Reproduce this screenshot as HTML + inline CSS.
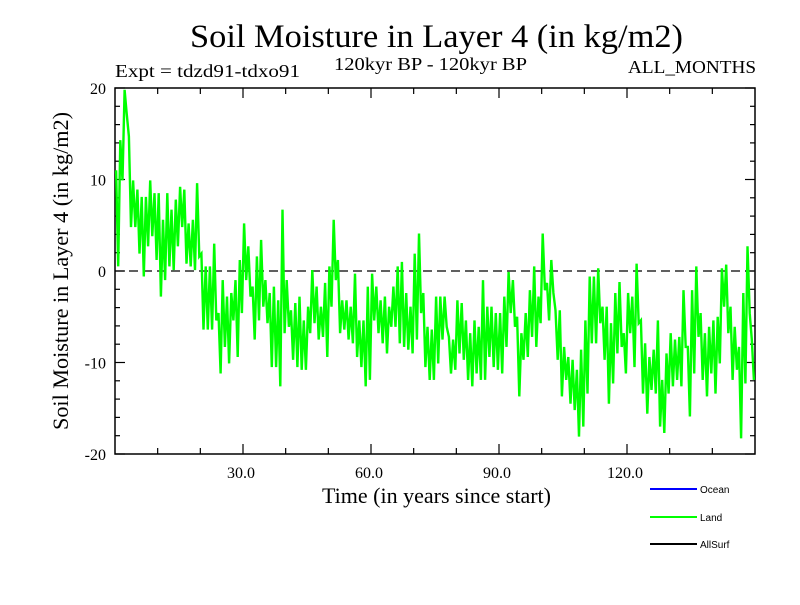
<!DOCTYPE html>
<html><head><meta charset="utf-8"><style>
body{margin:0;background:#fff;}
svg text{font-family:"Liberation Serif",serif;fill:#000;}
</style></head><body>
<svg id="chart" width="800" height="600" viewBox="0 0 800 600" xmlns="http://www.w3.org/2000/svg">
<rect width="800" height="600" fill="#fff"/>
<text x="190" y="47" font-size="33" textLength="493" lengthAdjust="spacingAndGlyphs">Soil Moisture in Layer 4 (in kg/m2)</text>
<text x="115" y="77" font-size="18" textLength="185" lengthAdjust="spacingAndGlyphs">Expt = tdzd91-tdxo91</text>
<text x="334" y="70" font-size="18" textLength="193" lengthAdjust="spacingAndGlyphs">120kyr BP - 120kyr BP</text>
<text x="628" y="73" font-size="18" textLength="128" lengthAdjust="spacingAndGlyphs">ALL_MONTHS</text>
<text transform="translate(68,271) rotate(-90)" font-size="22" text-anchor="middle" textLength="318" lengthAdjust="spacingAndGlyphs">Soil Moisture in Layer 4 (in kg/m2)</text>
<text x="322" y="503" font-size="22" textLength="229" lengthAdjust="spacingAndGlyphs">Time (in years since start)</text>
<g id="axes"></g>
<g id="series"></g>
<g>
<line x1="650" y1="489" x2="697" y2="489" stroke="#0000ff" stroke-width="2"/>
<text x="700" y="493" font-size="10" style="font-family:'Liberation Sans',sans-serif">Ocean</text>
<line x1="650" y1="517" x2="697" y2="517" stroke="#00ff00" stroke-width="2"/>
<text x="700" y="521" font-size="10" style="font-family:'Liberation Sans',sans-serif">Land</text>
<line x1="650" y1="544" x2="697" y2="544" stroke="#000" stroke-width="2"/>
<text x="700" y="548" font-size="10" style="font-family:'Liberation Sans',sans-serif">AllSurf</text>
</g>
</svg>
<script>
const xTickValues=[30,60,90,120];
const xTickLabels=["30.0","60.0","90.0","120.0"];
const yTickValues=[20,10,0,-10,-20];
const yTickLabels=["20","10","0","-10","-20"];
const landHigh=[11.0,14.3,19.8,14.7,9.9,8.9,8.1,8.1,9.9,8.5,8.5,5.6,8.5,6.7,7.8,9.2,8.9,5.2,5.6,9.6,
1.9,0.5,0.5,3.0,-4.6,-1.0,-2.8,-2.4,-1.0,1.2,5.2,2.7,-1.7,1.6,3.4,-1.0,-2.4,-1.7,-3.2,6.7,
-1.0,-4.3,-3.5,-2.8,-5.4,-3.9,0.1,-1.7,-3.9,-1.3,0.5,5.6,1.2,-3.2,-3.2,-3.9,-0.3,-5.4,-5.4,-1.7,
-0.3,-1.7,-3.2,-2.8,-3.9,-1.7,0.5,1.0,-2.4,-3.9,1.9,4.1,-2.4,-6.1,-6.4,-2.8,-2.8,-2.8,-7.2,-7.5,
-3.2,-3.5,-5.4,-6.8,-5.4,-6.1,-1.0,-3.9,-3.9,-4.6,-4.6,-2.8,-0.1,-1.0,-5.0,-6.8,-4.6,-2.1,0.5,-2.8,
4.1,-1.3,1.2,-4.3,-4.3,-8.3,-9.4,-9.7,-10.8,-8.6,-5.4,-0.6,-0.6,0.3,-3.9,-3.9,-5.7,-2.4,-1.2,-6.8,
-2.4,-2.8,0.8,-5.4,-7.9,-9.4,-8.6,-5.4,-11.9,-9.0,-6.8,-7.5,-7.2,-2.1,-8.3,-2.1,0.5,-4.6,-6.8,-6.1,
-5.4,-5.0,0.3,0.7,-3.9,-6.1,-8.3,-2.4,2.7,-7.5];
const landLow=[0.5,9.9,17.2,4.8,4.8,1.9,-0.6,2.7,3.8,1.2,-2.8,-1.0,0.5,0.1,2.7,4.8,0.8,0.5,0.1,1.6,
-6.4,-6.4,-6.4,-5.4,-11.2,-8.3,-10.1,-5.4,-9.4,-4.6,-1.0,-2.8,-7.5,-5.4,-3.9,-5.7,-10.5,-10.5,-12.6,-6.8,
-6.1,-9.7,-10.5,-10.8,-10.8,-6.8,-5.7,-7.5,-7.2,-9.4,-3.9,-1.0,-6.8,-6.4,-7.5,-7.9,-9.4,-10.5,-12.6,-11.9,
-5.4,-6.8,-7.9,-9.0,-6.1,-6.1,-7.9,-8.3,-8.6,-9.0,-7.5,-4.6,-10.5,-11.9,-11.9,-10.1,-7.5,-6.1,-11.2,-10.8,
-9.0,-9.7,-11.9,-12.6,-11.2,-11.9,-11.9,-9.4,-10.5,-10.8,-11.2,-8.3,-4.6,-6.1,-13.7,-9.7,-9.4,-7.2,-8.3,-5.7,
-2.1,-5.4,-2.4,-9.7,-13.7,-11.9,-14.5,-15.2,-18.1,-17.0,-13.4,-7.9,-7.9,-5.7,-9.7,-14.5,-12.3,-9.0,-8.3,-11.2,
-6.8,-10.5,-5.7,-13.4,-15.6,-13.0,-13.4,-17.0,-17.7,-13.4,-12.6,-11.9,-12.6,-8.3,-15.9,-11.2,-7.2,-11.9,-13.7,-11.2,
-13.4,-10.1,-3.9,-6.8,-11.9,-10.8,-18.3,-12.3,-4.6,-11.9];
const X0=115,X1=755,Y0=454,Y1=88,XMIN=0,XMAX=150,YMIN=-20,YMAX=20;
function xs(v){return X0+(v-XMIN)/(XMAX-XMIN)*(X1-X0);}
function ys(v){return Y0-(v-YMIN)/(YMAX-YMIN)*(Y0-Y1);}
const NS="http://www.w3.org/2000/svg";
const axes=document.getElementById('axes');
const series=document.getElementById('series');
function mk(tag,attrs,parent){const e=document.createElementNS(NS,tag);for(const k in attrs)e.setAttribute(k,attrs[k]);parent.appendChild(e);return e;}
const fr=mk('rect',{x:X0,y:Y1,width:X1-X0,height:Y0-Y1,fill:'none',stroke:'#000','stroke-width':1.5},axes);


const zl=mk('line',{x1:X0,x2:X1,y1:ys(0),y2:ys(0),stroke:'#000','stroke-width':1.2,'stroke-dasharray':'9,5'},axes);


for(let v=YMIN;v<=YMAX;v+=2){const major=(v%10===0);const L=major?10:5;
 const t1=mk('line',{x1:X0,x2:X0+L,y1:ys(v),y2:ys(v),stroke:'#000','stroke-width':1.2},axes);
 
 
 const t2=mk('line',{x1:X1,x2:X1-L,y1:ys(v),y2:ys(v),stroke:'#000','stroke-width':1.2},axes);
 
 }
yTickValues.forEach((v,i)=>{const t=mk('text',{x:X0-9,y:ys(v)+6,'font-size':16,'text-anchor':'end'},axes);t.textContent=yTickLabels[i];
 
 });
for(let v=10;v<XMAX;v+=10){const major=(v%30===0);const L=major?10:6;
 const t1=mk('line',{x1:xs(v),x2:xs(v),y1:Y0,y2:Y0-L,stroke:'#000','stroke-width':1.2},axes);
 
 
 const t2=mk('line',{x1:xs(v),x2:xs(v),y1:Y1,y2:Y1+L,stroke:'#000','stroke-width':1.2},axes);
 
 }
xTickValues.forEach((v,i)=>{const t=mk('text',{x:xs(v)-2,y:Y0+24,'font-size':16,'text-anchor':'middle'},axes);t.textContent=xTickLabels[i];
 
 });
let pts=[];
for(let i=0;i<landHigh.length;i++){pts.push(xs(i+0.25).toFixed(1)+','+ys(landHigh[i]).toFixed(1));pts.push(xs(i+0.75).toFixed(1)+','+ys(landLow[i]).toFixed(1));}
const pl=mk('polyline',{points:pts.join(' '),fill:'none',stroke:'#00ff00','stroke-width':2.4,'stroke-linejoin':'miter'},series);


</script>
</body></html>
